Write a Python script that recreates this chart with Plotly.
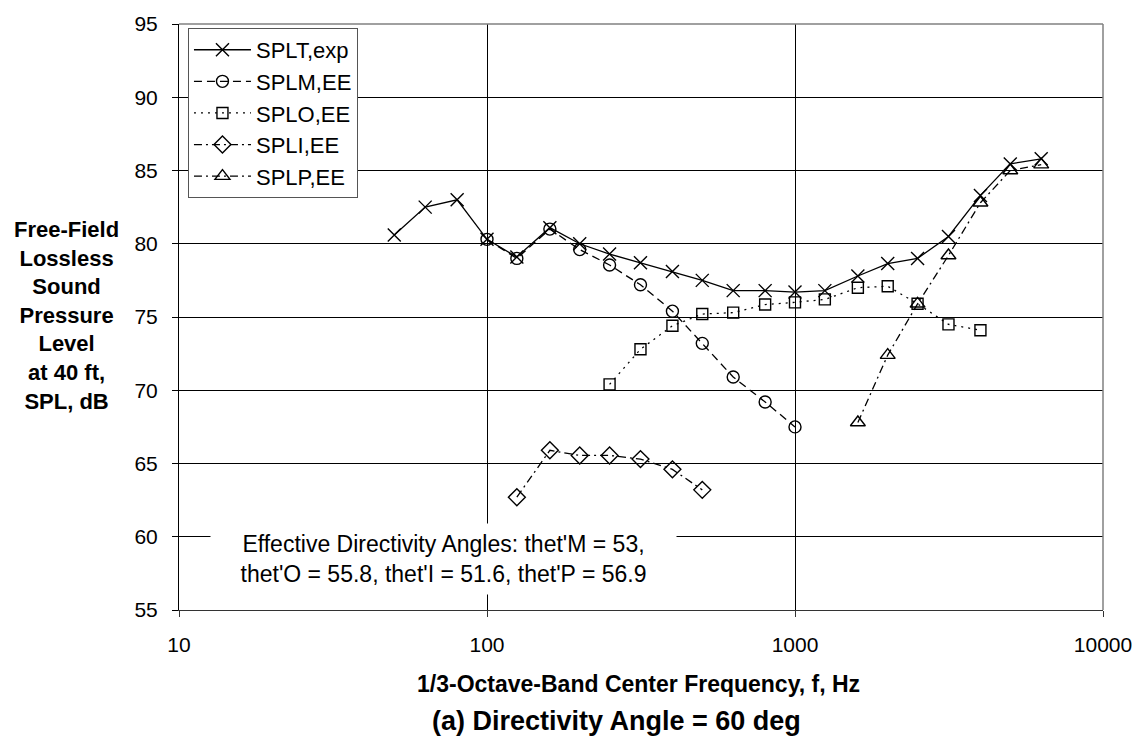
import plotly.graph_objects as go

# ---- data ----
freq_T = [50, 63, 80, 100, 125, 160, 200, 250, 315, 400, 500, 630, 800, 1000,
          1250, 1600, 2000, 2500, 3150, 4000, 5000, 6300]
splt_exp = [80.6, 82.5, 83.0, 80.3, 79.1, 81.1, 80.0, 79.3, 78.7, 78.1, 77.5, 76.8,
            76.8, 76.7, 76.8, 77.8, 78.65, 79.0, 80.5, 83.3, 85.45, 85.8]

freq_M = [100, 125, 160, 200, 250, 315, 400, 500, 630, 800, 1000]
splm_ee = [80.3, 79.0, 81.0, 79.6, 78.55, 77.2, 75.4, 73.2, 70.9, 69.2, 67.5]

freq_O = [250, 315, 400, 500, 630, 800, 1000, 1250, 1600, 2000, 2500, 3150, 4000]
splo_ee = [70.4, 72.8, 74.4, 75.2, 75.3, 75.85, 76.0, 76.2, 77.0, 77.1, 75.9, 74.5, 74.1]

freq_I = [125, 160, 200, 250, 315, 400, 500]
spli_ee = [62.7, 65.9, 65.55, 65.55, 65.3, 64.6, 63.2]

freq_P = [1600, 2000, 2500, 3150, 4000, 5000, 6300]
splp_ee = [67.8, 72.4, 75.9, 79.2, 82.8, 85.0, 85.4]

x_ticks = [10, 100, 1000, 10000]
y_ticks = [55, 60, 65, 70, 75, 80, 85, 90, 95]

FONT = "Liberation Sans, Arial, sans-serif"

series = [
    ("SPLT,exp", freq_T, splt_exp, "solid", "x-thin-open", 13),
    ("SPLM,EE", freq_M, splm_ee, "8px,5px", "circle-open", 12),
    ("SPLO,EE", freq_O, splo_ee, "2px,5px", "square-open", 11),
    ("SPLI,EE", freq_I, spli_ee, "8px,4px,2px,4px", "diamond-open", 13),
    ("SPLP,EE", freq_P, splp_ee, "8px,4px,2px,4px", "triangle-up-open", 13),
]

fig = go.Figure()
for name, xs, ys, dash, sym, sz in series:
    fig.add_trace(go.Scatter(
        x=xs, y=ys, name=name, mode="lines+markers",
        line=dict(color="black", width=1.3, dash=dash),
        marker=dict(symbol=sym, size=sz, color="black",
                    line=dict(color="black", width=1.4)),
    ))

fig.update_layout(
    width=1144, height=744,
    margin=dict(l=179, r=38, t=16, b=134),
    paper_bgcolor="white", plot_bgcolor="white",
    font=dict(family=FONT, size=21, color="black"),
    showlegend=True,
    legend=dict(x=0.0097, y=0.9933, xanchor="left", yanchor="top",
                bgcolor="white", bordercolor="#555555", borderwidth=1,
                font=dict(family=FONT, size=22, color="black"),
                itemwidth=57),
    xaxis=dict(type="log", range=[1, 4], tickvals=x_ticks,
               ticktext=[str(v) for v in x_ticks],
               showgrid=True, gridcolor="black", gridwidth=1,
               showline=True, linecolor="#333333", linewidth=1,
               ticks="outside", ticklen=6, tickcolor="#333333",
               ticklabelstandoff=10,
               tickfont=dict(family=FONT, size=21)),
    yaxis=dict(range=[55, 95], tickvals=y_ticks,
               showgrid=True, gridcolor="black", gridwidth=1,
               showline=True, linecolor="black", linewidth=1,
               ticks="outside", ticklen=6, tickcolor="black",
               ticklabelstandoff=10,
               tickfont=dict(family=FONT, size=21)),
    shapes=[
        dict(type="line", xref="paper", yref="paper", x0=0, x1=1, y0=1, y1=1,
             line=dict(color="#808080", width=1.5)),
        dict(type="line", xref="paper", yref="paper", x0=1, x1=1, y0=0, y1=1,
             line=dict(color="#808080", width=1.5)),
    ],
    annotations=[
        dict(text="Free-Field<br>Lossless<br>Sound<br>Pressure<br>Level<br>at 40 ft,<br>SPL, dB",
             xref="paper", yref="paper", x=-0.1219, y=0.503,
             xanchor="center", yanchor="middle", showarrow=False, align="center",
             font=dict(family=FONT, size=22, color="black", weight="bold")),
        dict(text="1/3-Octave-Band Center Frequency, f, Hz",
             xref="paper", yref="paper", x=0.4968, y=-0.1263,
             xanchor="center", yanchor="middle", showarrow=False,
             font=dict(family=FONT, size=23, color="black", weight="bold")),
        dict(text="(a) Directivity Angle = 60 deg",
             xref="paper", yref="paper", x=0.4736, y=-0.1886,
             xanchor="center", yanchor="middle", showarrow=False,
             font=dict(family=FONT, size=27, color="black", weight="bold")),
        dict(text="Effective Directivity Angles: thet'M = 53,<br>thet'O = 55.8, thet'I = 51.6, thet'P = 56.9",
             xref="paper", yref="paper", x=0.2864, y=0.0875,
             xanchor="center", yanchor="middle", showarrow=False, align="center",
             bgcolor="white", width=465, height=70, borderpad=0,
             font=dict(family=FONT, size=23, color="black")),
    ],
)

fig.write_html("out.html")
